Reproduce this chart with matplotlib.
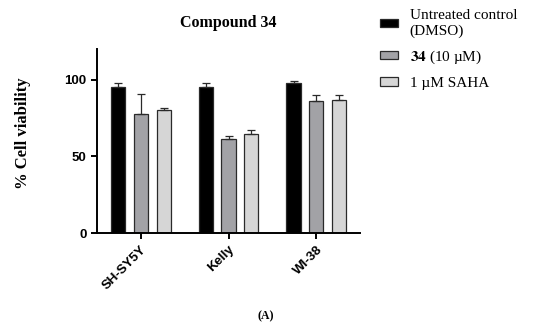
import numpy as np
import matplotlib
matplotlib.use("Agg")
import matplotlib.pyplot as plt

plt.rcParams['mathtext.fontset'] = 'stix'

cell_lines = ["SH-SY5Y", "Kelly", "WI-38"]
series_names = ["Untreated control\n(DMSO)", r"$\mathbf{34}$ (10 µM)", "1 µM SAHA"]
dmso = [95.5, 95.5, 98.0]
dmso_err = [2.0, 2.0, 1.2]
cpd34 = [77.5, 61.5, 86.0]
cpd34_err = [13.0, 2.0, 4.0]
saha = [80.0, 64.5, 86.5]
saha_err = [1.5, 2.5, 3.5]
yticks = [0, 50, 100]

colors = ["#000000", "#a2a2a6", "#d6d6d6"]
values = [dmso, cpd34, saha]
errors = [dmso_err, cpd34_err, saha_err]

fig = plt.figure(figsize=(5.5, 3.26), dpi=100)
ax = fig.add_axes([0.176, 0.285, 0.479, 0.565])

x = np.arange(len(cell_lines))
w = 0.16
offs = [-0.26, 0, 0.26]
for vals, errs, c, off, name in zip(values, errors, colors, offs, series_names):
    ax.bar(x + off, vals, w, color=c, edgecolor="#2a2a2a", linewidth=0.9, label=name,
           yerr=[np.zeros(len(errs)), errs], capsize=3,
           error_kw=dict(ecolor="#2a2a2a", elinewidth=0.9, capthick=0.9))

ax.set_xlim(-0.5, 2.5)
ax.set_ylim(0, 120)
ax.set_yticks(yticks)
ax.set_xticks(x)
ax.set_xticklabels(cell_lines, rotation=45, ha="right", rotation_mode="anchor")
for lab in ax.get_xticklabels() + ax.get_yticklabels():
    lab.set_family("Liberation Sans")
    lab.set_fontweight("bold")
    lab.set_fontsize(9.5)
ax.spines["top"].set_visible(False)
ax.spines["right"].set_visible(False)
ax.spines["left"].set_linewidth(1.4)
ax.spines["bottom"].set_linewidth(1.4)
ax.tick_params(width=1.4, length=4)

ax.set_title("Compound 34", family="Liberation Serif", fontweight="bold", fontsize=11.5, pad=16)
ax.set_ylabel("% Cell viability", family="Liberation Serif", fontweight="bold", fontsize=12)
ax.yaxis.set_label_coords(-0.25, 0.54)

leg = fig.legend(loc="upper left", bbox_to_anchor=(0.671, 1.005), frameon=False,
                 prop={"family": "Liberation Serif", "size": 11},
                 handlelength=1.2, handleheight=0.46, handletextpad=0.75, labelspacing=0.72,
                 borderaxespad=0.3)

fig.text(0.484, 0.022, "(A)", family="Liberation Serif", fontsize=8.5, fontweight="bold", ha="center")

fig.savefig("out.png", dpi=100)
